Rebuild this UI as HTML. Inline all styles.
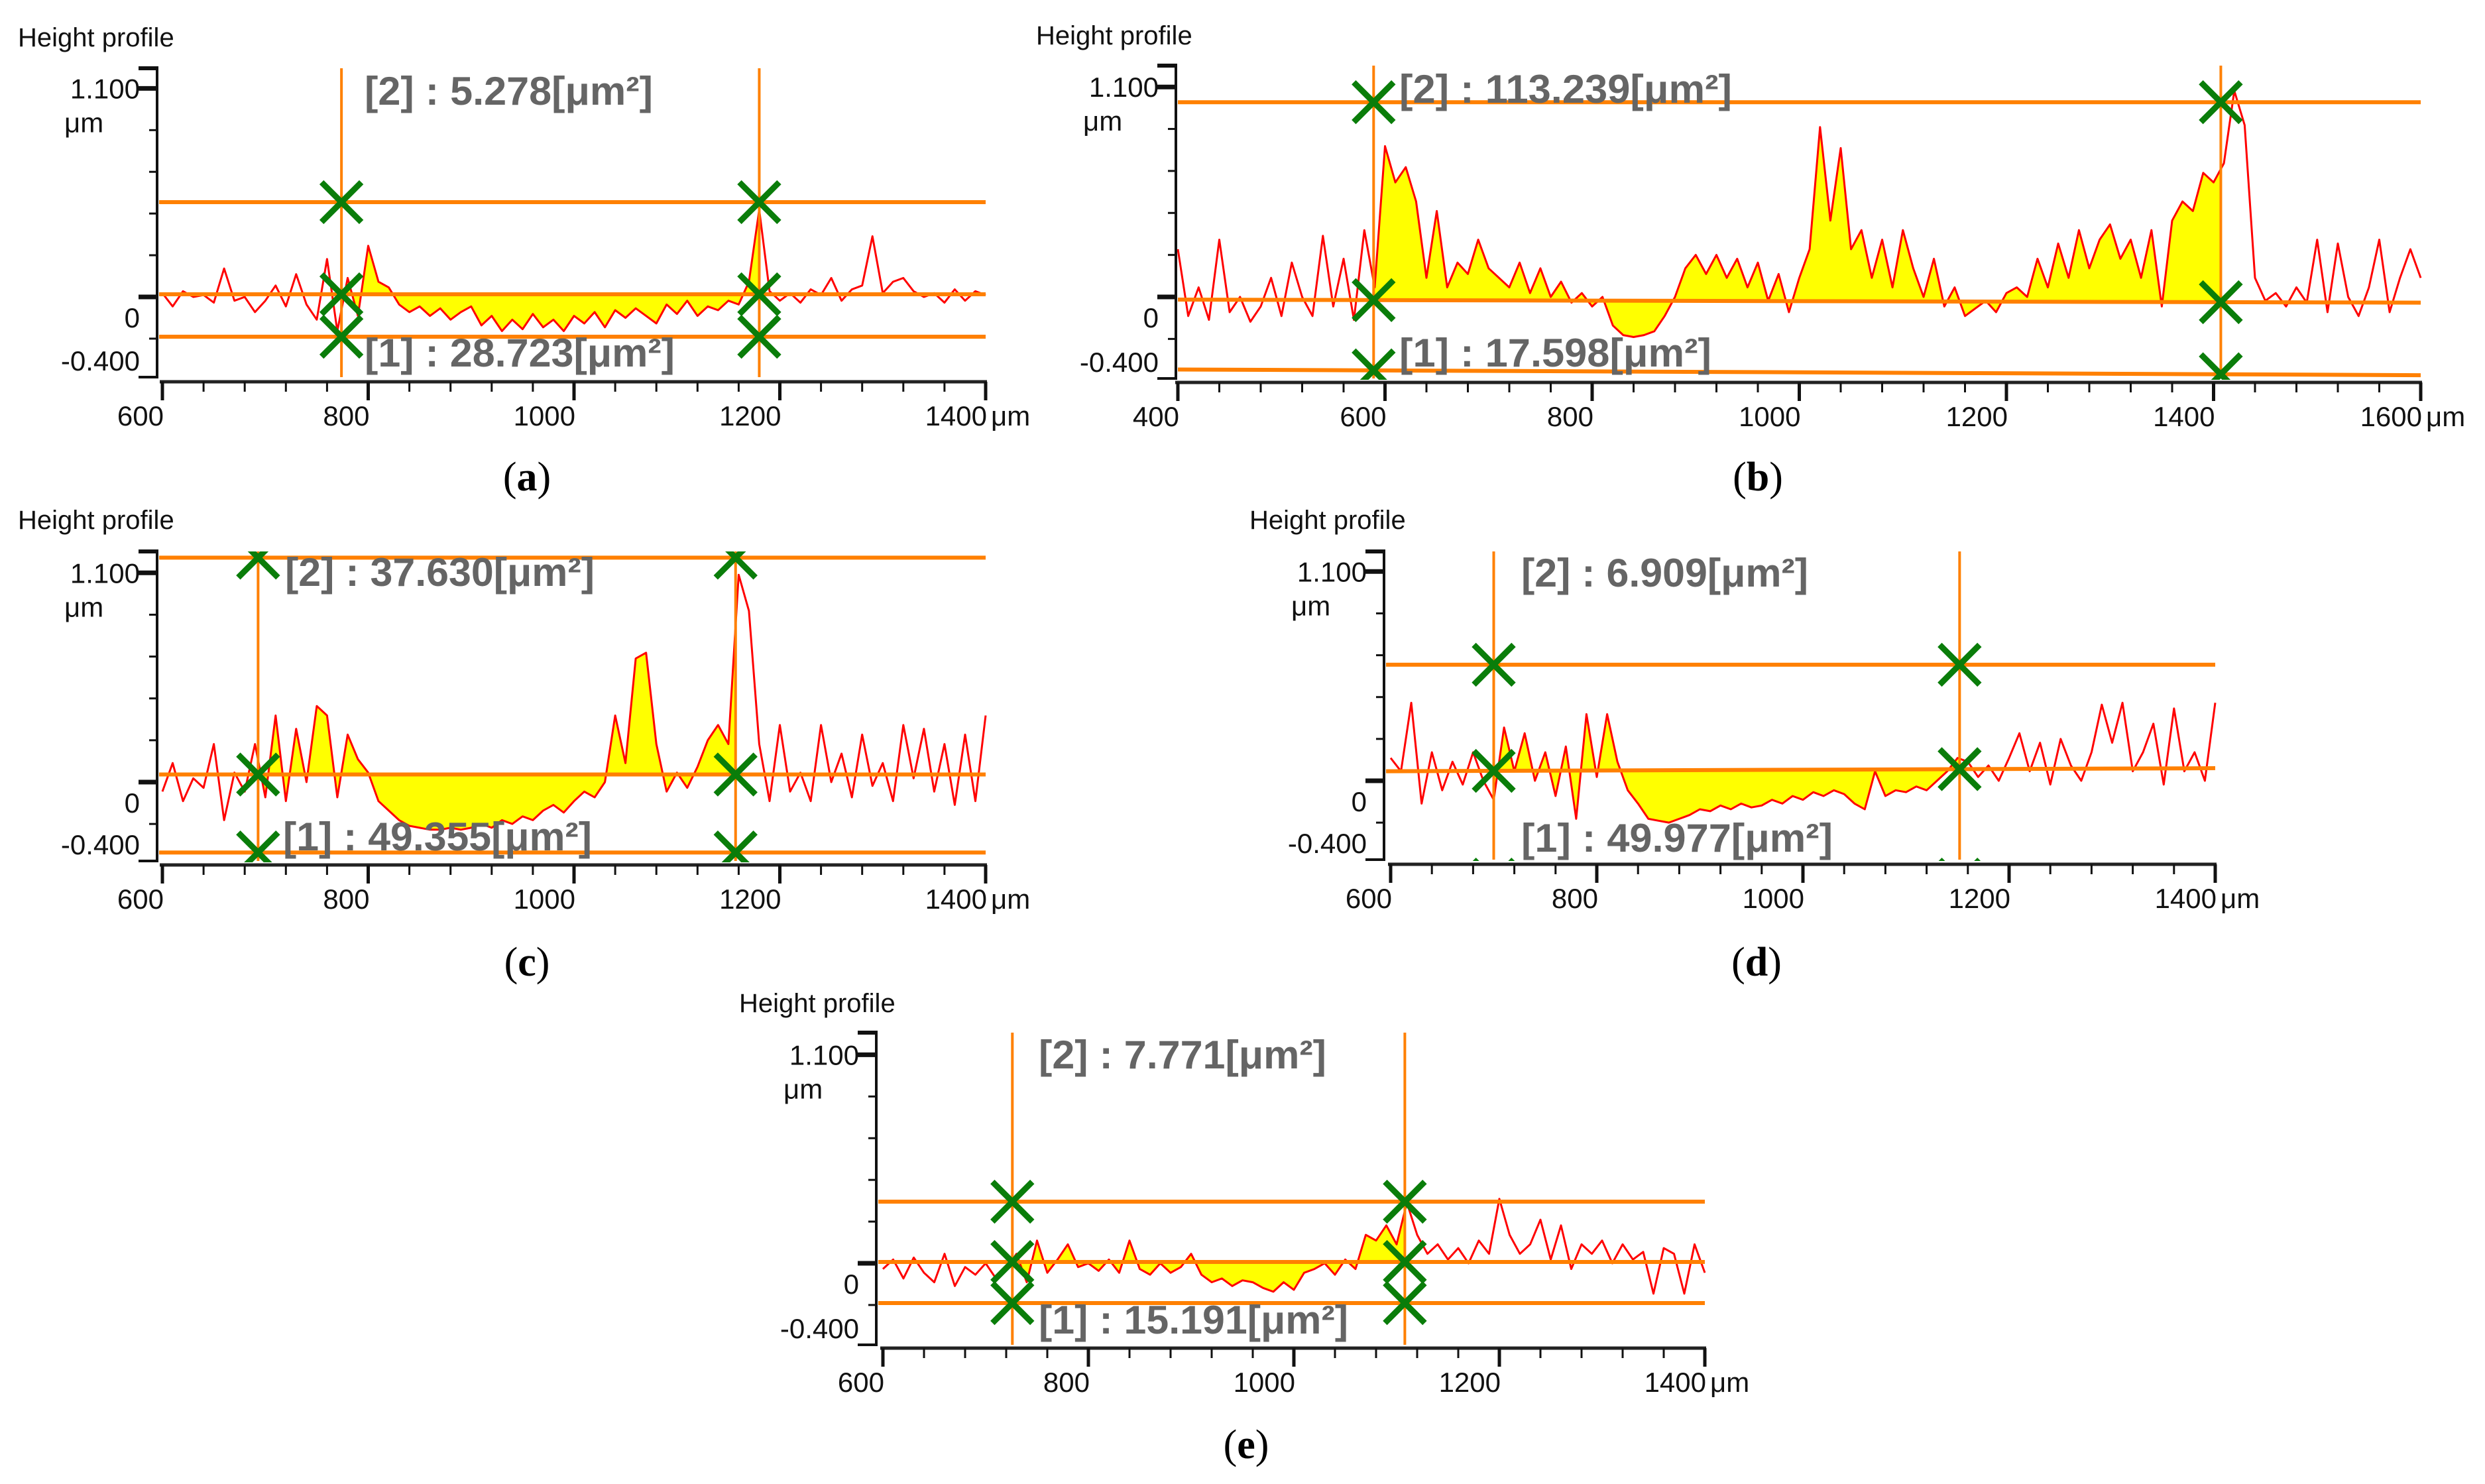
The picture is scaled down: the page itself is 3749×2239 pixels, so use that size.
<!DOCTYPE html>
<html>
<head>
<meta charset="utf-8">
<style>
html,body{margin:0;padding:0;background:#fff;}
svg{display:block;}
</style>
</head>
<body>
<svg id="fig" xmlns="http://www.w3.org/2000/svg" width="3749" height="2239" viewBox="0 0 3749 2239">
<defs id="defs"></defs>
</svg>
<script>
// ---------- data ----------
const aValues = [0.02,-0.05,0.03,0.0,0.01,-0.03,0.15,-0.02,0.0,-0.08,-0.02,0.06,-0.05,0.12,-0.04,-0.12,0.2,-0.18,0.1,-0.1,0.27,0.08,0.05,-0.04,-0.08,-0.05,-0.1,-0.06,-0.12,-0.08,-0.05,-0.15,-0.1,-0.18,-0.12,-0.17,-0.09,-0.16,-0.12,-0.18,-0.1,-0.14,-0.08,-0.16,-0.07,-0.11,-0.06,-0.1,-0.14,-0.04,-0.09,-0.02,-0.1,-0.05,-0.07,-0.02,-0.04,0.08,0.46,0.03,-0.02,0.02,-0.03,0.04,0.01,0.1,-0.02,0.04,0.06,0.32,0.02,0.08,0.1,0.03,0.0,0.02,-0.03,0.04,-0.02,0.03,0.01];
const bValues = [0.25,-0.1,0.05,-0.12,0.3,-0.08,0.0,-0.13,-0.05,0.1,-0.1,0.18,0.0,-0.1,0.32,-0.05,0.2,-0.12,0.35,0.05,0.79,0.6,0.68,0.5,0.1,0.45,0.05,0.18,0.12,0.3,0.15,0.1,0.05,0.18,0.02,0.15,0.0,0.08,-0.03,0.02,-0.05,0.0,-0.15,-0.2,-0.21,-0.2,-0.18,-0.1,0.0,0.15,0.22,0.12,0.22,0.1,0.2,0.05,0.18,-0.02,0.12,-0.08,0.1,0.25,0.89,0.4,0.78,0.25,0.35,0.1,0.3,0.05,0.35,0.15,0.0,0.2,-0.05,0.05,-0.1,-0.06,-0.02,-0.08,0.02,0.05,0.0,0.2,0.05,0.28,0.1,0.35,0.15,0.3,0.38,0.2,0.3,0.1,0.35,-0.05,0.4,0.5,0.45,0.65,0.6,0.7,1.08,0.9,0.1,-0.02,0.02,-0.05,0.05,-0.03,0.3,-0.08,0.28,0.0,-0.1,0.05,0.3,-0.08,0.1,0.25,0.1];
const cValues = [-0.05,0.1,-0.1,0.02,-0.03,0.2,-0.2,0.05,-0.05,0.2,-0.08,0.35,-0.1,0.28,0.0,0.4,0.35,-0.08,0.25,0.12,0.05,-0.1,-0.15,-0.2,-0.23,-0.24,-0.25,-0.25,-0.24,-0.25,-0.24,-0.22,-0.24,-0.2,-0.22,-0.18,-0.2,-0.15,-0.12,-0.16,-0.1,-0.05,-0.08,0.0,0.35,0.1,0.65,0.68,0.2,-0.05,0.05,-0.03,0.08,0.22,0.3,0.2,1.09,0.9,0.2,-0.1,0.3,-0.05,0.05,-0.1,0.3,0.0,0.15,-0.08,0.25,-0.02,0.1,-0.1,0.3,0.02,0.28,-0.05,0.2,-0.12,0.25,-0.1,0.35];
const dValues = [0.12,0.05,0.41,-0.12,0.15,-0.05,0.1,-0.02,0.15,0.0,-0.1,0.28,0.05,0.25,0.0,0.15,-0.08,0.18,-0.2,0.35,0.02,0.35,0.1,-0.05,-0.12,-0.2,-0.21,-0.22,-0.2,-0.18,-0.15,-0.16,-0.13,-0.15,-0.12,-0.14,-0.13,-0.1,-0.12,-0.08,-0.1,-0.06,-0.08,-0.05,-0.07,-0.12,-0.15,0.05,-0.08,-0.05,-0.06,-0.03,-0.05,0.0,0.05,0.12,0.1,0.02,0.08,0.0,0.12,0.25,0.05,0.2,-0.02,0.22,0.08,0.0,0.15,0.4,0.2,0.41,0.05,0.15,0.3,-0.02,0.38,0.05,0.15,0.0,0.41];
const eValues = [-0.03,0.02,-0.08,0.03,-0.05,-0.1,0.05,-0.12,-0.02,-0.06,0.0,-0.08,-0.03,0.05,-0.1,0.12,-0.05,0.02,0.1,-0.02,0.0,-0.04,0.02,-0.05,0.12,-0.03,-0.06,0.0,-0.05,-0.02,0.05,-0.06,-0.1,-0.08,-0.12,-0.09,-0.1,-0.13,-0.15,-0.1,-0.14,-0.05,-0.03,0.0,-0.06,0.02,-0.03,0.15,0.12,0.2,0.1,0.32,0.15,0.05,0.1,0.02,0.08,0.0,0.12,0.05,0.34,0.15,0.05,0.1,0.23,0.02,0.2,-0.03,0.1,0.05,0.12,0.0,0.1,0.02,0.06,-0.16,0.08,0.05,-0.16,0.1,-0.05];

// x data ranges [start, end] of each profile (µm)
const aRange = [600, 1400];
const bRange = [400, 1600];
const cRange = [600, 1400];
const dRange = [600, 1400];
const eRange = [600, 1400];

// cursor x positions (µm)
const aCursors = [774, 1180];
const bCursors = [589, 1407];
const cCursors = [693, 1157];
const dCursors = [700, 1152];
const eCursors = [726, 1108];

// horizontal reference levels (µm): upper, reference (left,right), lower (left,right)
const aLevels = [0.50, 0.014, 0.014, -0.21, -0.21];
const bLevels = [1.02, -0.014, -0.03, -0.38, -0.41];
const cLevels = [1.18, 0.04, 0.04, -0.37, -0.37];
const dLevels = [0.61, 0.05, 0.066, -0.52, -0.52];
const eLevels = [0.325, 0.007, 0.007, -0.21, -0.21];

// area labels
const aLabels = ["[2] : 5.278[μm²]", "[1] : 28.723[μm²]"];
const bLabels = ["[2] : 113.239[μm²]", "[1] : 17.598[μm²]"];
const cLabels = ["[2] : 37.630[μm²]", "[1] : 49.355[μm²]"];
const dLabels = ["[2] : 6.909[μm²]", "[1] : 49.977[μm²]"];
const eLabels = ["[2] : 7.771[μm²]", "[1] : 15.191[μm²]"];

// axis ticks
const aXTicks = [600, 800, 1000, 1200, 1400];
const bXTicks = [400, 600, 800, 1000, 1200, 1400, 1600];
const yTickLabels = ["1.100", "0", "-0.400"];
const yMinorTicks = [0.88, 0.66, 0.44, 0.22, -0.22];
const captions = ["a", "b", "c", "d", "e"];

// ---------- layout (pixel geometry, not data) ----------
const layouts = [
  {id:"a", vals:aValues, range:aRange, cur:aCursors, lev:aLevels, lab:aLabels, xt:aXTicks, minor:40,
   axisX:237, plotL:245, plotR:1487, xmin:600, xmax:1400, y0:448, k:286, top:103, bot:569, xAxisY:576,
   title:[27,70], cap:[795,740], l2:[550,158,435], l1:[550,553,468]},
  {id:"b", vals:bValues, range:bRange, cur:bCursors, lev:bLevels, lab:bLabels, xt:bXTicks, minor:40,
   axisX:1774, plotL:1777, plotR:3652, xmin:400, xmax:1600, y0:448, k:288, top:99, bot:571, xAxisY:577,
   title:[1563,67], cap:[2652,740], l2:[2111,155,502], l1:[2111,553,471]},
  {id:"c", vals:cValues, range:cRange, cur:cCursors, lev:cLevels, lab:cLabels, xt:aXTicks, minor:40,
   axisX:237, plotL:245, plotR:1487, xmin:600, xmax:1400, y0:1180, k:287, top:832, bot:1299, xAxisY:1305,
   title:[27,798], cap:[795,1472], l2:[430,884,467], l1:[427,1283,466]},
  {id:"d", vals:dValues, range:dRange, cur:dCursors, lev:dLevels, lab:dLabels, xt:aXTicks, minor:40,
   axisX:2088, plotL:2098, plotR:3342, xmin:600, xmax:1400, y0:1178, k:287, top:832, bot:1297, xAxisY:1304,
   title:[1885,798], cap:[2650,1472], l2:[2295,885,433], l1:[2295,1285,470]},
  {id:"e", vals:eValues, range:eRange, cur:eCursors, lev:eLevels, lab:eLabels, xt:aXTicks, minor:40,
   axisX:1322, plotL:1332, plotR:2572, xmin:600, xmax:1400, y0:1906, k:286, top:1558, bot:2029, xAxisY:2034,
   title:[1115,1527], cap:[1880,2200], l2:[1567,1612,434], l1:[1567,2012,467]}
];

const NS = "http://www.w3.org/2000/svg";
const svg = document.getElementById("fig");
const defs = document.getElementById("defs");
function mk(tag, parent){ const e = document.createElementNS(NS, tag); parent.appendChild(e); return e; }
function set(e, o){ for (const k in o) e.setAttribute(k, o[k]); return e; }

layouts.forEach(function(p, pi){
  const sx = x => p.plotL + (x - p.xmin) / (p.xmax - p.xmin) * (p.plotR - p.plotL);
  const sy = v => p.y0 - v * p.k;
  const refAt = x => p.lev[1] + (p.lev[2] - p.lev[1]) * (x - p.xmin) / (p.xmax - p.xmin);
  const lowAt = x => p.lev[3] + (p.lev[4] - p.lev[3]) * (x - p.xmin) / (p.xmax - p.xmin);

  const g = mk("g", svg);
  
  

  // clip paths
  const cp = mk("clipPath", defs); cp.setAttribute("id", "plot-" + p.id);
  set(mk("rect", cp), {x:p.axisX + 2, y:p.top, width:p.plotR - p.axisX + 4, height:p.bot - p.top + 2});
  const cf = mk("clipPath", defs); cf.setAttribute("id", "fill-" + p.id);
  set(mk("rect", cf), {x:sx(p.cur[0]), y:p.top, width:sx(p.cur[1]) - sx(p.cur[0]), height:p.bot - p.top});

  // title
  const t = mk("text", g);
  set(t, {x:p.title[0], y:p.title[1], "font-family":"Liberation Sans, DejaVu Sans, sans-serif", "font-size":40, fill:"#111"});
  t.textContent = "Height profile";
  
  

  // y axis
  const ya = mk("g", g);
  
  
  set(mk("line", ya), {x1:p.axisX, y1:p.top, x2:p.axisX, y2:p.bot, stroke:"#111", "stroke-width":4});
  set(mk("line", ya), {x1:p.axisX - 28, y1:p.top, x2:p.axisX + 2, y2:p.top, stroke:"#111", "stroke-width":6});
  set(mk("line", ya), {x1:p.axisX - 28, y1:p.bot, x2:p.axisX + 2, y2:p.bot, stroke:"#111", "stroke-width":4});
  [1.1, 0].forEach(function(v){
    set(mk("line", ya), {x1:p.axisX - 28, y1:sy(v), x2:p.axisX, y2:sy(v), stroke:"#111", "stroke-width":7});
  });
  yMinorTicks.forEach(function(v){
    set(mk("line", ya), {x1:p.axisX - 12, y1:sy(v), x2:p.axisX, y2:sy(v), stroke:"#111", "stroke-width":3});
  });
  const yl = [[yTickLabels[0], sy(1.1) + 15], [yTickLabels[1], sy(0) + 46], [yTickLabels[2], p.bot - 10]];
  yl.forEach(function(d){
    const tx = mk("text", ya);
    set(tx, {x:p.axisX - 26, y:d[1], "text-anchor":"end", "font-family":"Liberation Sans, DejaVu Sans, sans-serif", "font-size":42, fill:"#111"});
    tx.textContent = d[0];
    
    
  });
  const yu = mk("text", ya);
  set(yu, {x:p.axisX - 140, y:sy(1.1) + 66, "font-family":"Liberation Sans, DejaVu Sans, sans-serif", "font-size":42, fill:"#111"});
  yu.textContent = "μm";
  
  

  // x axis
  const xa = mk("g", g);
  
  
  set(mk("line", xa), {x1:p.plotL - 4, y1:p.xAxisY, x2:p.plotR + 2, y2:p.xAxisY, stroke:"#222", "stroke-width":5});
  for (let x = p.xmin; x <= p.xmax + 0.01; x += p.minor) {
    const major = p.xt.indexOf(x) >= 0;
    set(mk("line", xa), {x1:sx(x), y1:p.xAxisY, x2:sx(x), y2:p.xAxisY + (major ? 28 : 15), stroke:"#111", "stroke-width": major ? 5 : 3});
  }
  p.xt.forEach(function(x, i){
    const tx = mk("text", xa);
    set(tx, {x:sx(x) + 2, y:p.xAxisY + 66, "text-anchor":"end", "font-family":"Liberation Sans, DejaVu Sans, sans-serif", "font-size":42, fill:"#111"});
    tx.textContent = String(x);
    
    
  });
  const xu = mk("text", xa);
  set(xu, {x:p.plotR + 8, y:p.xAxisY + 66, "font-family":"Liberation Sans, DejaVu Sans, sans-serif", "font-size":42, fill:"#111"});
  xu.textContent = "μm";
  
  

  // profile points
  const n = p.vals.length;
  const xs = p.vals.map((v, i) => p.range[0] + i * (p.range[1] - p.range[0]) / (n - 1));
  const pts = xs.map((x, i) => sx(x).toFixed(1) + "," + sy(p.vals[i]).toFixed(1));

  const plot = mk("g", g);
  plot.setAttribute("clip-path", "url(#plot-" + p.id + ")");
  
  

  // yellow fill between profile and reference line
  const back = [sx(p.range[1]).toFixed(1) + "," + sy(refAt(p.range[1])).toFixed(1), sx(p.range[0]).toFixed(1) + "," + sy(refAt(p.range[0])).toFixed(1)];
  const fill = mk("polygon", plot);
  set(fill, {points: pts.concat(back).join(" "), fill:"#ffff00", stroke:"none", "clip-path":"url(#fill-" + p.id + ")"});
  
  

  // profile line
  const pl = mk("polyline", plot);
  set(pl, {points: pts.join(" "), fill:"none", stroke:"#ff0000", "stroke-width":3, "stroke-linejoin":"round"});
  
  

  // horizontal lines
  const hl = [[p.lev[0], p.lev[0]], [refAt(p.xmin), refAt(p.xmax)], [lowAt(p.xmin), lowAt(p.xmax)]];
  const hnames = ['upper-level-line', 'reference-line', 'lower-level-line'];
  hl.forEach(function(l, i){
    const ln = mk("line", plot);
    set(ln, {x1:p.axisX + 3, y1:sy(l[0]), x2:p.plotR, y2:sy(l[1]), stroke:"#ff8000", "stroke-width":6});
    
    
  });

  // cursors
  p.cur.forEach(function(c, i){
    const ln = mk("line", plot);
    set(ln, {x1:sx(c), y1:p.top, x2:sx(c), y2:p.bot, stroke:"#ff8000", "stroke-width":4});
    
    
  });

  // green markers
  p.cur.forEach(function(c){
    [p.lev[0], refAt(c), lowAt(c)].forEach(function(v){
      const cx = sx(c), cy = sy(v), r = 30;
      const m = mk("path", plot);
      set(m, {d:"M" + (cx - r) + " " + (cy - r) + "L" + (cx + r) + " " + (cy + r) + "M" + (cx + r) + " " + (cy - r) + "L" + (cx - r) + " " + (cy + r),
              stroke:"#0a7d0a", "stroke-width":9, fill:"none"});
      
      
    });
  });

  // area labels
  [[p.lab[0], p.l2], [p.lab[1], p.l1]].forEach(function(d, i){
    const tx = mk("text", g);
    set(tx, {x:d[1][0], y:d[1][1], textLength:d[1][2], lengthAdjust:"spacingAndGlyphs",
             "font-family":"Liberation Sans, DejaVu Sans, sans-serif", "font-weight":"bold", "font-size":60, fill:"#656565"});
    tx.textContent = d[0];
    
    
  });

  // caption
  const cap = mk("text", g);
  set(cap, {x:p.cap[0], y:p.cap[1], "text-anchor":"middle", "font-family":"Liberation Serif, DejaVu Serif, serif", "font-size":62, fill:"#000"});
  cap.textContent = "(";
  const ts = mk("tspan", cap); ts.setAttribute("font-weight", "bold"); ts.textContent = captions[pi];
  const ts2 = mk("tspan", cap); ts2.textContent = ")";
  
  
});
</script>
</body>
</html>
